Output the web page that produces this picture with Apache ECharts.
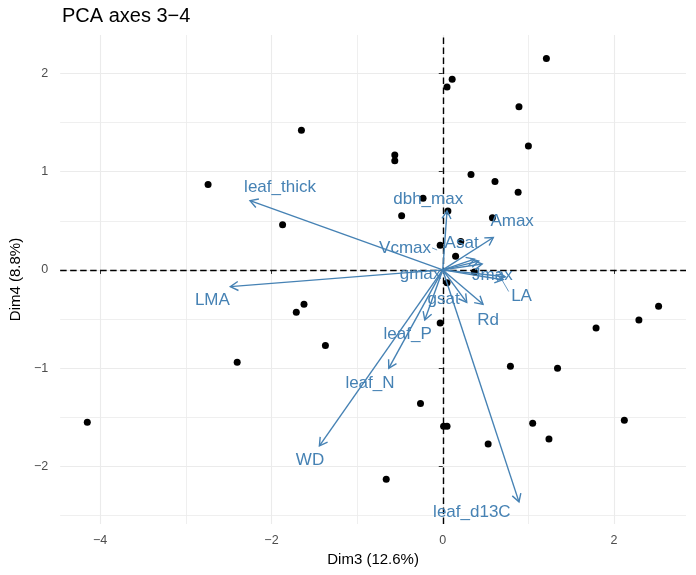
<!DOCTYPE html>
<html>
<head>
<meta charset="utf-8">
<title>PCA axes 3-4</title>
<script src="https://cdn.jsdelivr.net/npm/echarts@6/dist/echarts.min.js"></script>
<style>
  html, body { margin: 0; padding: 0; background: #ffffff; }
  #chart { width: 696px; height: 575px; }
</style>
</head>
<body>
<div id="chart"></div>
<script>
// Individuals: coordinates on PCA dimensions 3 and 4
const indDim3 = [
  -4.15, -2.74, -1.65, -1.87, -2.40, -1.71, -1.62, -1.37, -0.56, -0.56,
  -0.23, -0.48,  0.06, -0.03,  0.21,  0.15,  0.37,  0.05,  0.58,  0.61,
   0.88, -0.03,  0.05,  0.11,  1.21,  0.89,  1.00,  0.33,  2.52,  2.29,
   1.79,  2.12,  1.34,  0.79,  1.05,  1.24,  0.53,  0.01,  0.05, -0.26,
  -0.66
];
const indDim4 = [
  -1.55,  0.87,  1.42,  0.46, -0.94, -0.43, -0.35, -0.77,  1.17,  1.11,
   0.73,  0.55,  0.60,  0.25,  0.29,  0.14, -0.02, -0.13,  0.53,  0.90,
   0.79, -0.54,  1.86,  1.94,  2.15,  1.66,  1.26,  0.97, -0.37, -0.51,
  -0.59, -1.53, -1.00, -0.98, -1.56, -1.72, -1.77, -1.59, -1.59, -1.36,
  -2.13
];

// Variables: arrow tips (loadings scaled to the individuals' space)
const varNames = [
  'leaf_thick', 'LMA', 'dbh_max', 'Amax', 'Asat', 'Vcmax', 'gmax', 'Jmax',
  'LA', 'gsat', 'Rd', 'leaf_P', 'leaf_N', 'WD', 'leaf_d13C'
];
const varDim3 = [-2.25, -2.48, 0.05, 0.59, 0.37, 0.42, 0.46, 0.73, 0.70, 0.28, 0.47, -0.21, -0.63, -1.44, 0.89];
const varDim4 = [ 0.705, -0.17, 0.60, 0.33, 0.11, 0.09, 0.06, -0.07, -0.10, -0.33, -0.35, -0.51, -1.00, -1.79, -2.36];

// Tick labels
const xTicks = [-4, -2, 0, 2];
const yTicks = [-2, -1, 0, 1, 2];
const xMinor = [-3, -1, 1];
const yMinor = [-2.5, -1.5, -0.5, 0.5, 1.5];

// Where each variable name sits after repelling (axis units)
const labelPos = [
  [-1.90, 0.84], [-2.69, -0.31], [-0.17, 0.72], [0.81, 0.49], [0.22, 0.27],
  [-0.44, 0.22], [-0.26, -0.04], [0.58, -0.05], [0.92, -0.27], [0.01, -0.30],
  [0.53, -0.51], [-0.41, -0.66], [-0.85, -1.15], [-1.55, -1.94], [0.34, -2.47]
];
// Leader segments for displaced labels: [x1, y1, x2, y2]
const leaders = [
  [0.69, -0.10, 0.77, -0.22],
  [-0.125, 0.224, -0.066, 0.203]
];

const FONT = '"Liberation Sans", Arial, Helvetica, sans-serif';
const BLUE = '#4682B4';
const GRID = '#EBEBEB';

const fmt = v => String(v).replace('-', '\u2212');

const points = indDim3.map((x, i) => [x, indDim4[i]]);
const arrows = varNames.map((n, i) => [varDim3[i], varDim4[i], n]);
const labels = varNames.map((n, i) => [labelPos[i][0], labelPos[i][1], n]);

const gridLines = [];
xTicks.forEach(v => gridLines.push({ xAxis: v, lineStyle: { color: GRID, width: 1.1, type: 'solid' } }));
xMinor.forEach(v => gridLines.push({ xAxis: v, lineStyle: { color: GRID, width: 0.8, type: 'solid' } }));
yTicks.forEach(v => gridLines.push({ yAxis: v, lineStyle: { color: GRID, width: 1.1, type: 'solid' } }));
yMinor.forEach(v => gridLines.push({ yAxis: v, lineStyle: { color: GRID, width: 0.8, type: 'solid' } }));

const chart = echarts.init(document.getElementById('chart'), null, { renderer: 'canvas' });

chart.setOption({
  animation: false,
  backgroundColor: '#ffffff',
  title: {
    text: 'PCA axes 3\u22124',
    left: 57,
    top: 1,
    textStyle: { fontFamily: FONT, fontSize: 20, fontWeight: 'normal', color: '#000000' }
  },
  grid: { left: 60, right: 10, top: 35, bottom: 51, containLabel: false },
  xAxis: {
    type: 'value',
    min: -4.467,
    max: 2.84,
    name: 'Dim3 (12.6%)',
    nameLocation: 'middle',
    nameGap: 22,
    nameTextStyle: { fontFamily: FONT, fontSize: 15, color: '#000000' },
    axisLine: { show: false },
    splitLine: { show: false },
    axisTick: { show: true, length: 4, customValues: xTicks, lineStyle: { color: '#333333', width: 1 } },
    axisLabel: { customValues: xTicks, formatter: fmt, margin: 10, fontFamily: FONT, fontSize: 12.5, color: '#4D4D4D' }
  },
  yAxis: {
    type: 'value',
    min: -2.585,
    max: 2.39,
    name: 'Dim4 (8.8%)',
    nameLocation: 'middle',
    nameRotate: 90,
    nameGap: 35,
    nameTextStyle: { fontFamily: FONT, fontSize: 15, color: '#000000' },
    axisLine: { show: false },
    splitLine: { show: false },
    axisTick: { show: true, length: 4, customValues: yTicks, lineStyle: { color: '#333333', width: 1 } },
    axisLabel: { customValues: yTicks, formatter: fmt, margin: 12, fontFamily: FONT, fontSize: 12.5, color: '#4D4D4D' }
  },
  series: [
    {
      // background grid
      type: 'line',
      data: [],
      z: 0,
      silent: true,
      markLine: { silent: true, symbol: 'none', label: { show: false }, animation: false, z: 0, data: gridLines }
    },
    {
      name: 'individuals',
      type: 'scatter',
      data: points,
      symbol: 'circle',
      symbolSize: 7,
      itemStyle: { color: '#000000', opacity: 1 },
      z: 10,
      silent: true
    },
    {
      // dashed reference axes through the origin
      type: 'line',
      data: [],
      z: 11,
      silent: true,
      markLine: {
        silent: true, symbol: 'none', label: { show: false }, animation: false, z: 11,
        lineStyle: { color: '#000000', type: [6.5, 3.5], width: 1.4 },
        data: [{ xAxis: 0 }, { yAxis: 0 }]
      }
    },
    {
      name: 'variables',
      type: 'custom',
      z: 12,
      silent: true,
      data: arrows,
      encode: { x: 0, y: 1 },
      renderItem: function (params, api) {
        const p0 = api.coord([0, 0]);
        const p1 = api.coord([api.value(0), api.value(1)]);
        const ang = Math.atan2(p1[1] - p0[1], p1[0] - p0[0]);
        const L = 9, a = Math.PI / 6;
        const h1 = [p1[0] - L * Math.cos(ang - a), p1[1] - L * Math.sin(ang - a)];
        const h2 = [p1[0] - L * Math.cos(ang + a), p1[1] - L * Math.sin(ang + a)];
        const style = { stroke: BLUE, lineWidth: 1.4, fill: null };
        return {
          type: 'group',
          children: [
            { type: 'line', shape: { x1: p0[0], y1: p0[1], x2: p1[0], y2: p1[1] }, style: style },
            { type: 'polyline', shape: { points: [h1, p1, h2] }, style: style }
          ]
        };
      }
    },
    {
      name: 'leaders',
      type: 'custom',
      z: 13,
      silent: true,
      data: leaders,
      encode: { x: [0, 2], y: [1, 3] },
      renderItem: function (params, api) {
        const a = api.coord([api.value(0), api.value(1)]);
        const b = api.coord([api.value(2), api.value(3)]);
        return { type: 'line', shape: { x1: a[0], y1: a[1], x2: b[0], y2: b[1] }, style: { stroke: BLUE, lineWidth: 0.8 } };
      }
    },
    {
      name: 'variable labels',
      type: 'custom',
      z: 14,
      silent: true,
      data: labels,
      encode: { x: 0, y: 1 },
      renderItem: function (params, api) {
        const p = api.coord([api.value(0), api.value(1)]);
        return {
          type: 'text',
          style: {
            text: labels[params.dataIndex][2],
            x: p[0], y: p[1],
            align: 'center', verticalAlign: 'middle',
            fill: BLUE,
            font: '17px ' + FONT
          }
        };
      }
    }
  ]
});
</script>
</body>
</html>
